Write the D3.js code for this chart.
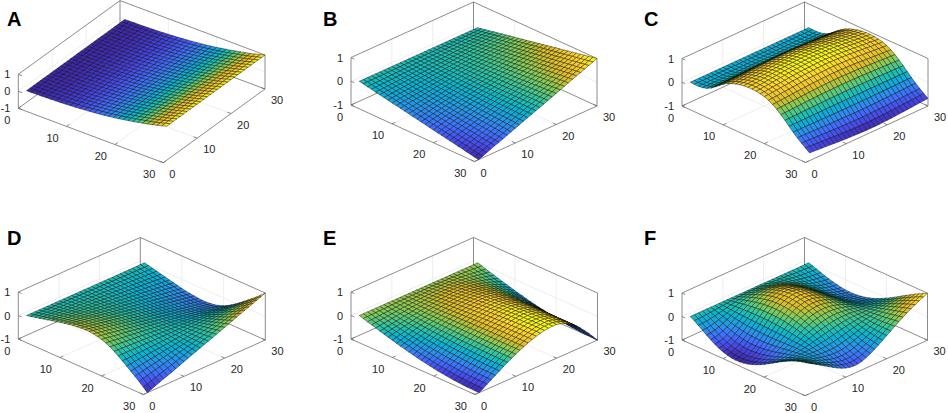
<!DOCTYPE html>
<html>
<head>
<meta charset="utf-8">
<script src="https://cdn.jsdelivr.net/npm/d3@7"></script>
<style>
  body { margin: 0; background: #fff; }
  svg { display: block; }
</style>
</head>
<body>
<script>
// grid positions along both floor axes (1..30)
const gridPos = [1,2,3,4,5,6,7,8,9,10,11,12,13,14,15,16,17,18,19,20,21,22,23,24,25,26,27,28,29,30];
const floorTicks = [0, 10, 20, 30];
const zTicks = [-1, 0, 1];
const panelNames = ["A", "B", "C", "D", "E", "F"];

const flat = [1,1,1,1,1,1,1,1,1,1,1,1,1,1,1,1,1,1,1,1,1,1,1,1,1,1,1,1,1,1];

// A : rises along the first axis only
const aRow = [0.00,0.00,0.01,0.01,0.02,0.03,0.04,0.05,0.07,0.08,0.10,0.12,0.15,0.17,0.20,0.23,0.26,0.30,0.34,0.38,0.43,0.48,0.53,0.59,0.65,0.71,0.77,0.84,0.92,1.00];
// B : ramp x ramp
const bRow = [0.00,0.03,0.07,0.10,0.14,0.17,0.21,0.24,0.28,0.31,0.34,0.38,0.41,0.45,0.48,0.52,0.55,0.59,0.62,0.66,0.69,0.72,0.76,0.79,0.83,0.86,0.90,0.93,0.97,1.00];
const bCol = [-1.00,-0.93,-0.86,-0.79,-0.72,-0.66,-0.59,-0.52,-0.45,-0.38,-0.31,-0.24,-0.17,-0.10,-0.03,0.03,0.10,0.17,0.24,0.31,0.38,0.45,0.52,0.59,0.66,0.72,0.79,0.86,0.93,1.00];
// C : ridge along the second axis
const cRow = [0.00,-0.01,-0.01,0.01,0.06,0.15,0.28,0.42,0.55,0.66,0.74,0.80,0.85,0.88,0.90,0.90,0.89,0.86,0.82,0.75,0.65,0.53,0.38,0.22,0.05,-0.12,-0.28,-0.42,-0.55,-0.68];
const cCol = [1.00,1.01,1.03,1.05,1.07,1.09,1.11,1.13,1.15,1.17,1.18,1.19,1.20,1.21,1.22,1.22,1.22,1.21,1.20,1.19,1.18,1.16,1.14,1.12,1.10,1.08,1.06,1.04,1.02,1.00];
// D : dip-and-rise x ramp
const dRow = [0.00,-0.04,-0.08,-0.12,-0.17,-0.21,-0.26,-0.30,-0.34,-0.38,-0.42,-0.45,-0.47,-0.49,-0.50,-0.50,-0.48,-0.45,-0.40,-0.33,-0.24,-0.13,-0.01,0.12,0.26,0.40,0.54,0.68,0.84,1.00];
const dCol = [-1.00,-0.93,-0.86,-0.79,-0.72,-0.66,-0.59,-0.52,-0.45,-0.38,-0.31,-0.24,-0.17,-0.10,-0.03,0.03,0.10,0.17,0.24,0.31,0.38,0.45,0.52,0.59,0.66,0.72,0.79,0.86,0.93,1.00];
// E : saturating ramp x arch
const eRow = [0.00,0.05,0.11,0.16,0.21,0.27,0.32,0.37,0.42,0.47,0.52,0.56,0.61,0.65,0.69,0.73,0.76,0.80,0.83,0.86,0.88,0.91,0.93,0.95,0.96,0.98,0.99,0.99,1.00,1.00];
const eCol = [-1.00,-0.90,-0.79,-0.68,-0.57,-0.46,-0.35,-0.25,-0.15,-0.06,0.03,0.11,0.19,0.26,0.32,0.37,0.41,0.43,0.44,0.43,0.39,0.33,0.24,0.12,-0.03,-0.20,-0.39,-0.58,-0.79,-1.00];
// F : two modes
const fRow1 = [0.00,0.10,0.22,0.35,0.48,0.60,0.71,0.80,0.88,0.94,0.98,1.00,1.00,0.98,0.95,0.90,0.84,0.77,0.69,0.60,0.51,0.42,0.33,0.25,0.18,0.12,0.07,0.04,0.02,0.00];
const fCol1 = [-1.00,-0.96,-0.88,-0.76,-0.61,-0.44,-0.26,-0.08,0.10,0.27,0.42,0.54,0.63,0.69,0.72,0.72,0.69,0.63,0.55,0.45,0.33,0.20,0.07,-0.06,-0.18,-0.28,-0.36,-0.42,-0.47,-0.50];
const fRow2 = [0.00,0.00,0.00,0.00,0.00,0.01,0.01,0.02,0.02,0.03,0.04,0.05,0.07,0.09,0.11,0.14,0.17,0.21,0.25,0.30,0.35,0.41,0.47,0.54,0.61,0.68,0.76,0.84,0.92,1.00];
const fCol2 = [0.30,0.20,0.09,-0.02,-0.13,-0.24,-0.35,-0.45,-0.54,-0.61,-0.66,-0.68,-0.67,-0.63,-0.56,-0.47,-0.37,-0.26,-0.14,-0.02,0.10,0.22,0.34,0.45,0.56,0.66,0.75,0.84,0.92,1.00];

const panelTerms = [
  [[aRow, flat]],
  [[bRow, bCol]],
  [[cRow, cCol]],
  [[dRow, dCol]],
  [[eRow, eCol]],
  [[fRow1, fCol1], [fRow2, fCol2]]
];

// layout of each box: floor corner (0,0,-1), first-axis vector, second-axis vector, z height
const layout = [
  { o: [18.3, 108.3], U: [145, 54.4],   V: [101.7, -73.7], zH: 34,   letter: [7, 26] },
  { o: [351, 105],    U: [123.5, 56.5], V: [122.5, -55.5], zH: 47.5, letter: [323, 26] },
  { o: [682, 106],    U: [123.5, 56.5], V: [122.5, -56.5], zH: 47.5, letter: [644, 26] },
  { o: [18.3, 339],   U: [125, 55.5],   V: [122, -54.5],   zH: 47,   letter: [7, 245] },
  { o: [351, 339],    U: [124, 55.5],   V: [122.5, -54.5], zH: 47,   letter: [323, 245] },
  { o: [682, 340],    U: [123, 55.7],   V: [122.5, -55.5], zH: 47,   letter: [644, 245] }
];

// parula colour map
const parula = d3.piecewise(d3.interpolateRgb, [
  "rgb(62,38,168)", "rgb(71,71,235)", "rgb(62,111,255)", "rgb(39,150,235)", "rgb(8,181,208)",
  "rgb(49,198,159)", "rgb(129,204,89)", "rgb(220,189,41)", "rgb(252,207,48)", "rgb(249,251,21)"
]);

const svg = d3.select("body").append("svg")
  .attr("width", 948)
  .attr("height", 413)
  .style("font-family", "'Liberation Sans', Arial, sans-serif");

const uScale = d3.scaleLinear().domain([0, 30]).range([0, 1]);
const vScale = d3.scaleLinear().domain([0, 30]).range([0, 1]);
const zScale = d3.scaleLinear().domain([-1, 1]).range([0, 1]);

function drawPanel(idx) {
  const L = layout[idx];
  const g = svg.append("g");

  const proj = (u, v, z) => [
    L.o[0] + L.U[0] * uScale(u) + L.V[0] * vScale(v),
    L.o[1] + L.U[1] * uScale(u) + L.V[1] * vScale(v) - L.zH * zScale(z)
  ];
  const seg = (a, b, color, w) => g.append("line")
    .attr("x1", a[0]).attr("y1", a[1]).attr("x2", b[0]).attr("y2", b[1])
    .attr("stroke", color).attr("stroke-width", w);

  // grid lines on the back walls and the floor
  const gridColor = "#e3e3e3";
  [10, 20].forEach(t => {
    seg(proj(0, t, -1), proj(0, t, 1), gridColor, 0.6);
    seg(proj(t, 30, -1), proj(t, 30, 1), gridColor, 0.6);
    seg(proj(t, 0, -1), proj(t, 30, -1), gridColor, 0.6);
    seg(proj(0, t, -1), proj(30, t, -1), gridColor, 0.6);
  });
  seg(proj(0, 0, 0), proj(0, 30, 0), gridColor, 0.6);
  seg(proj(0, 30, 0), proj(30, 30, 0), gridColor, 0.6);

  // box edges
  const boxColor = "#6e6e6e";
  seg(proj(0, 0, -1), proj(0, 0, 1), boxColor, 0.8);
  seg(proj(0, 30, -1), proj(0, 30, 1), boxColor, 0.8);
  seg(proj(30, 30, -1), proj(30, 30, 1), boxColor, 0.8);
  seg(proj(0, 0, 1), proj(0, 30, 1), boxColor, 0.8);
  seg(proj(0, 30, 1), proj(30, 30, 1), boxColor, 0.8);
  seg(proj(0, 0, -1), proj(0, 30, -1), boxColor, 0.8);
  seg(proj(0, 30, -1), proj(30, 30, -1), boxColor, 0.8);
  seg(proj(0, 0, -1), proj(30, 0, -1), boxColor, 0.8);
  seg(proj(30, 0, -1), proj(30, 30, -1), boxColor, 0.8);

  // tick marks
  floorTicks.forEach(t => {
    seg(proj(t, 0, -1), proj(t, 0.8, -1), boxColor, 0.8);
    seg(proj(30, t, -1), proj(29.2, t, -1), boxColor, 0.8);
  });
  zTicks.forEach(t => seg(proj(0, 0, t), proj(0.8, 0, t), boxColor, 0.8));

  // surface values
  const terms = panelTerms[idx];
  const Z = gridPos.map((_, i) => gridPos.map((_, j) =>
    d3.sum(terms, tm => tm[0][i] * tm[1][j])));
  const allZ = Z.flat();
  const color = d3.scaleSequential(parula).domain(d3.extent(allZ));

  const faces = [];
  for (let i = 0; i < gridPos.length - 1; i++) {
    for (let j = 0; j < gridPos.length - 1; j++) {
      const cs = [[i, j], [i + 1, j], [i + 1, j + 1], [i, j + 1]];
      const pts = cs.map(([a, b]) => proj(gridPos[a], gridPos[b], Z[a][b]));
      const uc = (gridPos[i] + gridPos[i + 1]) / 2;
      const vc = (gridPos[j] + gridPos[j + 1]) / 2;
      const depth = L.U[1] * uScale(uc) + L.V[1] * vScale(vc);
      const zc = d3.mean(cs, ([a, b]) => Z[a][b]);
      faces.push({ pts, depth, zc });
    }
  }
  faces.sort((a, b) => a.depth - b.depth);

  g.append("g").selectAll("path").data(faces).join("path")
    .attr("d", f => "M" + f.pts.map(p => p[0].toFixed(2) + "," + p[1].toFixed(2)).join("L") + "Z")
    .attr("fill", f => color(f.zc))
    .attr("stroke", "#000")
    .attr("stroke-width", 0.45)
    .attr("stroke-opacity", 0.9)
    .attr("stroke-linejoin", "round");

  // tick labels
  const labelColor = "#262626";
  floorTicks.forEach(t => {
    const p = proj(t, 0, -1);
    g.append("text").attr("x", p[0] - 8).attr("y", p[1] + 15.5)
      .attr("text-anchor", "end").attr("font-size", 11).attr("fill", labelColor).text(t);
    const q = proj(30, t, -1);
    g.append("text").attr("x", q[0] + 6).attr("y", q[1] + 15)
      .attr("text-anchor", "start").attr("font-size", 11).attr("fill", labelColor).text(t);
  });
  zTicks.forEach(t => {
    const p = proj(0, 0, t);
    g.append("text").attr("x", p[0] - 8).attr("y", p[1] + 4)
      .attr("text-anchor", "end").attr("font-size", 11).attr("fill", labelColor).text(t);
  });

  svg.append("text")
    .attr("x", L.letter[0]).attr("y", L.letter[1])
    .attr("font-size", 20).attr("font-weight", "bold").attr("fill", "#000")
    .text(panelNames[idx]);
}

panelNames.forEach((_, i) => drawPanel(i));
</script>
</body>
</html>
